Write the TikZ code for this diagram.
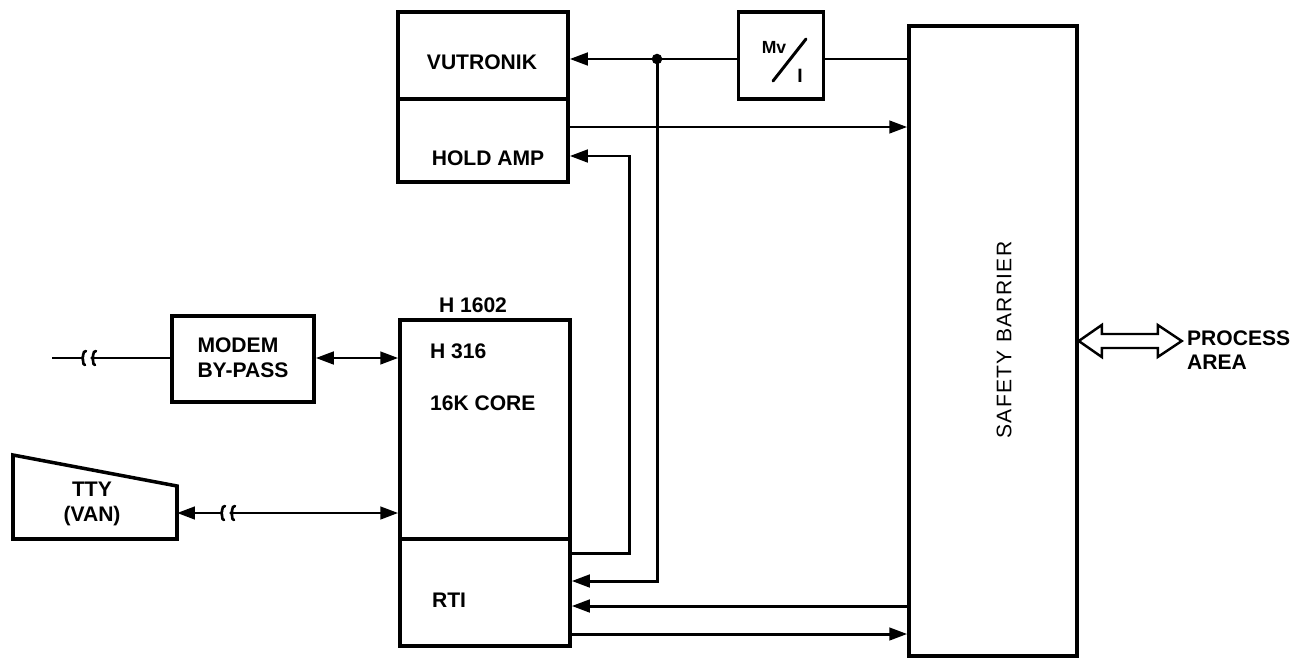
\documentclass[tikz,border=0pt]{standalone}
\usepackage{fontspec}
\setmainfont{Liberation Sans}
\usetikzlibrary{arrows.meta}
\newcommand{\pxu}{0.02cm}
\tikzset{
  blk/.style={draw,line width=2pt,inner sep=0pt},
  lbl/.style={font=\fontsize{12}{14}\selectfont\bfseries,inner sep=1pt},
  sig/.style={line width=1.7pt},
  brk/.style={line width=1.5pt,line cap=round},
}

\begin{document}
\begin{tikzpicture}[x=0.02cm,y=-0.02cm,>={Triangle[length=3.6mm,width=2.5mm]}]
\useasboundingbox (0,0) rectangle (1305,659);
\node[blk,minimum width=170*\pxu,minimum height=87*\pxu] (vut) at (483,55.5) {};
\node[blk,minimum width=170*\pxu,minimum height=83*\pxu] (hold) at (483,140.5) {};
\node[blk,minimum width=170*\pxu,minimum height=219*\pxu] (cpu) at (485,429.5) {};
\node[blk,minimum width=170*\pxu,minimum height=107*\pxu] (rti) at (485,592.5) {};
\node[blk,minimum width=85*\pxu,minimum height=87*\pxu] (mvi) at (781,55.5) {};
\node[blk,minimum width=168*\pxu,minimum height=630*\pxu] (bar) at (993,341) {};
\node[blk,minimum width=142*\pxu,minimum height=86*\pxu] (modem) at (243,359) {};
\draw[line width=2pt] (13,455) -- (177,486) -- (177,539) -- (13,539) -- cycle;
\coordinate (ttyE) at (177,513);
\coordinate (lin) at (52,358);
\coordinate (dot) at (657,59);
\coordinate (ret) at (629,156);
\coordinate (r1) at (0,127);\coordinate (r3) at (0,553);\coordinate (r4) at (0,581);
\coordinate (r5) at (0,606);\coordinate (r6) at (0,634);

\node[lbl] (vutl) at (482,62) {VUTRONIK};
\node[lbl] (holdl) at (488,158) {HOLD AMP};
\node[lbl] (h1602) at (473,305) {H 1602};
\node[lbl,anchor=west] (h316) at (428,351) {H 316};
\node[lbl,anchor=west] (core) at (428,403) {16K CORE};
\node[lbl,anchor=west] (rtil) at (430,600) {RTI};
\node[lbl,align=left] (modl) at (243,358) {MODEM\\BY-PASS};
\node[lbl,align=center] (ttyl) at (92,504) {TTY\\(VAN)};
\node[lbl,align=left,anchor=west] (proc) at (1185,350) {PROCESS\\AREA};
\node[lbl,font=\fontsize{12}{14}\selectfont,rotate=90] (sbt) at (1004,340) {\addfontfeatures{LetterSpace=6}SAFETY BARRIER};
\node[font=\fontsize{10}{12}\selectfont\bfseries,inner sep=0pt] (mvl) at (774,47) {Mv};
\node[font=\fontsize{11}{12}\selectfont\bfseries,inner sep=0pt] (il) at (800,76) {I};
\draw[sig,line cap=round] (773,81) -- (806,39);

\draw[sig] (bar.west |- dot) -- (mvi.east |- dot);
\draw[sig,->] (mvi.west |- dot) -- (vut.east |- dot);
\fill (dot) circle (3pt);
\draw[sig,->] (hold.east |- r1) -- (bar.west |- r1);
\draw[sig,->] (rti.east |- r3) -| (ret) -- (hold.east |- ret);
\draw[sig,->] (dot) |- (rti.east |- r4);
\draw[sig,->] (bar.west |- r5) -- (rti.east |- r5);
\draw[sig,->] (rti.east |- r6) -- (bar.west |- r6);
\draw[sig,<->] (modem.east |- lin) -- (cpu.west |- lin);
\draw[sig,<-] (ttyE) -- (221,513);
\draw[sig,->] (231,513) -- (cpu.west |- ttyE);
\draw[sig] (lin) -- (82,358);
\draw[sig] (92,358) -- (modem.west |- lin);
\foreach \bx/\by in {82/358,92/358,221/513,231/513}
  \draw[brk] (\bx+4,\by-7) .. controls (\bx,\by-7) and (\bx+2,\by) .. (\bx,\by)
    .. controls (\bx+2,\by) and (\bx,\by+7) .. (\bx+3,\by+7);
\draw[line width=1.4pt,line join=miter] (bar.east) -- ++(23,-16) -- ++(0,9) -- ++(56,0) -- ++(0,-9) -- ++(24,16)
  -- ++(-24,16) -- ++(0,-9) -- ++(-56,0) -- ++(0,9) -- cycle;
\end{tikzpicture}
\end{document}
